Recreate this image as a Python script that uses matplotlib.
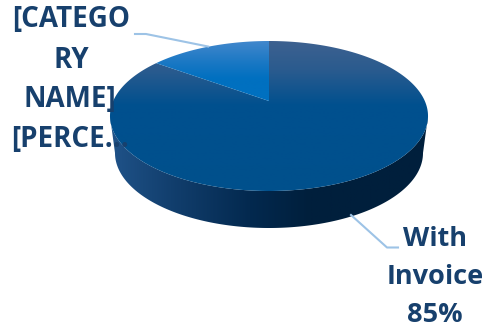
import numpy as np
import matplotlib
matplotlib.use("Agg")
import matplotlib.pyplot as plt
from matplotlib.colors import LinearSegmentedColormap
from matplotlib.patches import Polygon

categories = ["With Invoice", "[CATEGORY NAME]"]
values = [85, 15]
label_lines_invoice = ["With", "Invoice", "85%"]
label_lines_other = ["[CATEGO", "RY", "NAME]", "[PERCE..."]

W, H = 487, 328
INK = "#17406d"
LEADER = "#9dc3e6"
plt.rcParams["font.family"] = ["Open Sans", "DejaVu Sans"]

fig = plt.figure(figsize=(W / 100, H / 100), dpi=100)
ax = fig.add_axes([0, 0, 1, 1])
ax.set_xlim(0, W)
ax.set_ylim(H, 0)
ax.axis("off")

CX, CY_APEX = 269.0, 101.0
K, TILT, SLOPE = 155.8, 0.2, -51.8


def disc(theta):
    """Perspective view of the unit disc; theta runs counter-clockwise from 12 o'clock."""
    u, v = -np.sin(theta), np.cos(theta)
    w = TILT * v + 1
    return CX + K * u / w, (SLOPE * v + CY_APEX) / w


def stops_full(stops, span):
    out = list(stops)
    if out[0][0] > 0:
        out.insert(0, (0, out[0][1]))
    if out[-1][0] < span:
        out.append((span, out[-1][1]))
    return out


def gradient(poly, stops, horizontal=False, zorder=1):
    """Fill a polygon with a linear gradient across the whole canvas."""
    patch = Polygon(poly, closed=True, fc="none", ec="none", transform=ax.transData)
    ax.add_patch(patch)
    span = W if horizontal else H
    cmap = LinearSegmentedColormap.from_list("g", [(p / span, c) for p, c in stops_full(stops, span)])
    ramp = np.linspace(0, 1, 512)
    ramp = ramp[None, :] if horizontal else ramp[:, None]
    im = ax.imshow(ramp, cmap=cmap, vmin=0, vmax=1, extent=(0, W, H, 0),
                   aspect="auto", zorder=zorder, interpolation="bilinear")
    im.set_clip_path(patch)
    return im


shares = np.array(values, dtype=float) / sum(values)
slice_angle = 2 * np.pi * shares[1]

# Rim of the pie: front half of the top edge joined to the lower ellipse
t = np.linspace(0, 2 * np.pi, 720)
tx, ty = disc(t)
left, right = np.argmin(tx), np.argmax(tx)
front = np.linspace(t[left], t[right], 240)
fx, fy = disc(front)
phi = np.linspace(0, np.pi, 240)
bx, by = CX + 154 * np.cos(phi), 153 + 75 * np.sin(phi)
rim = np.column_stack([np.r_[fx, bx], np.r_[fy, by]])
gradient(rim, [(112, "#1f5288"), (170, "#123f6e"), (250, "#03294f"),
               (310, "#001f3c"), (430, "#001f3c")], horizontal=True, zorder=1)

# Large slice on the top face
a = np.linspace(slice_angle, 2 * np.pi, 500)
x, y = disc(a)
big = np.column_stack([np.r_[CX, x], np.r_[CY_APEX, y]])
gradient(big, [(41, "#3d6190"), (70, "#2a5b8e"), (105, "#00508f"), (195, "#00508c")], zorder=2)

# Small slice on the top face
a = np.linspace(0, slice_angle, 120)
x, y = disc(a)
small = np.column_stack([np.r_[CX, x], np.r_[CY_APEX, y]])
gradient(small, [(41, "#4187cc"), (62, "#1a78c4"), (78, "#0070c0"), (105, "#0070c0")], zorder=3)

# Leader lines
ax.plot([135, 146, 208], [34, 34, 46.5], color=LEADER, lw=1.5, zorder=4, solid_joinstyle="round")
ax.plot([351, 387, 398], [215, 247.5, 247.5], color=LEADER, lw=1.5, zorder=4, solid_joinstyle="round")

# Data labels, one wrapped line at a time
for line, xc, yc in zip(label_lines_other, [71, 71, 70, 70], [20, 60, 99, 139]):
    ax.text(xc, yc, line, ha="center", va="center", color=INK, fontsize=20, fontweight="bold", zorder=5)
for line, xc, yc in zip(label_lines_invoice, [435, 435, 435], [239, 277, 315]):
    ax.text(xc, yc, line, ha="center", va="center", color=INK, fontsize=19.5, fontweight="bold", zorder=5)

fig.savefig("out.png", dpi=100)
